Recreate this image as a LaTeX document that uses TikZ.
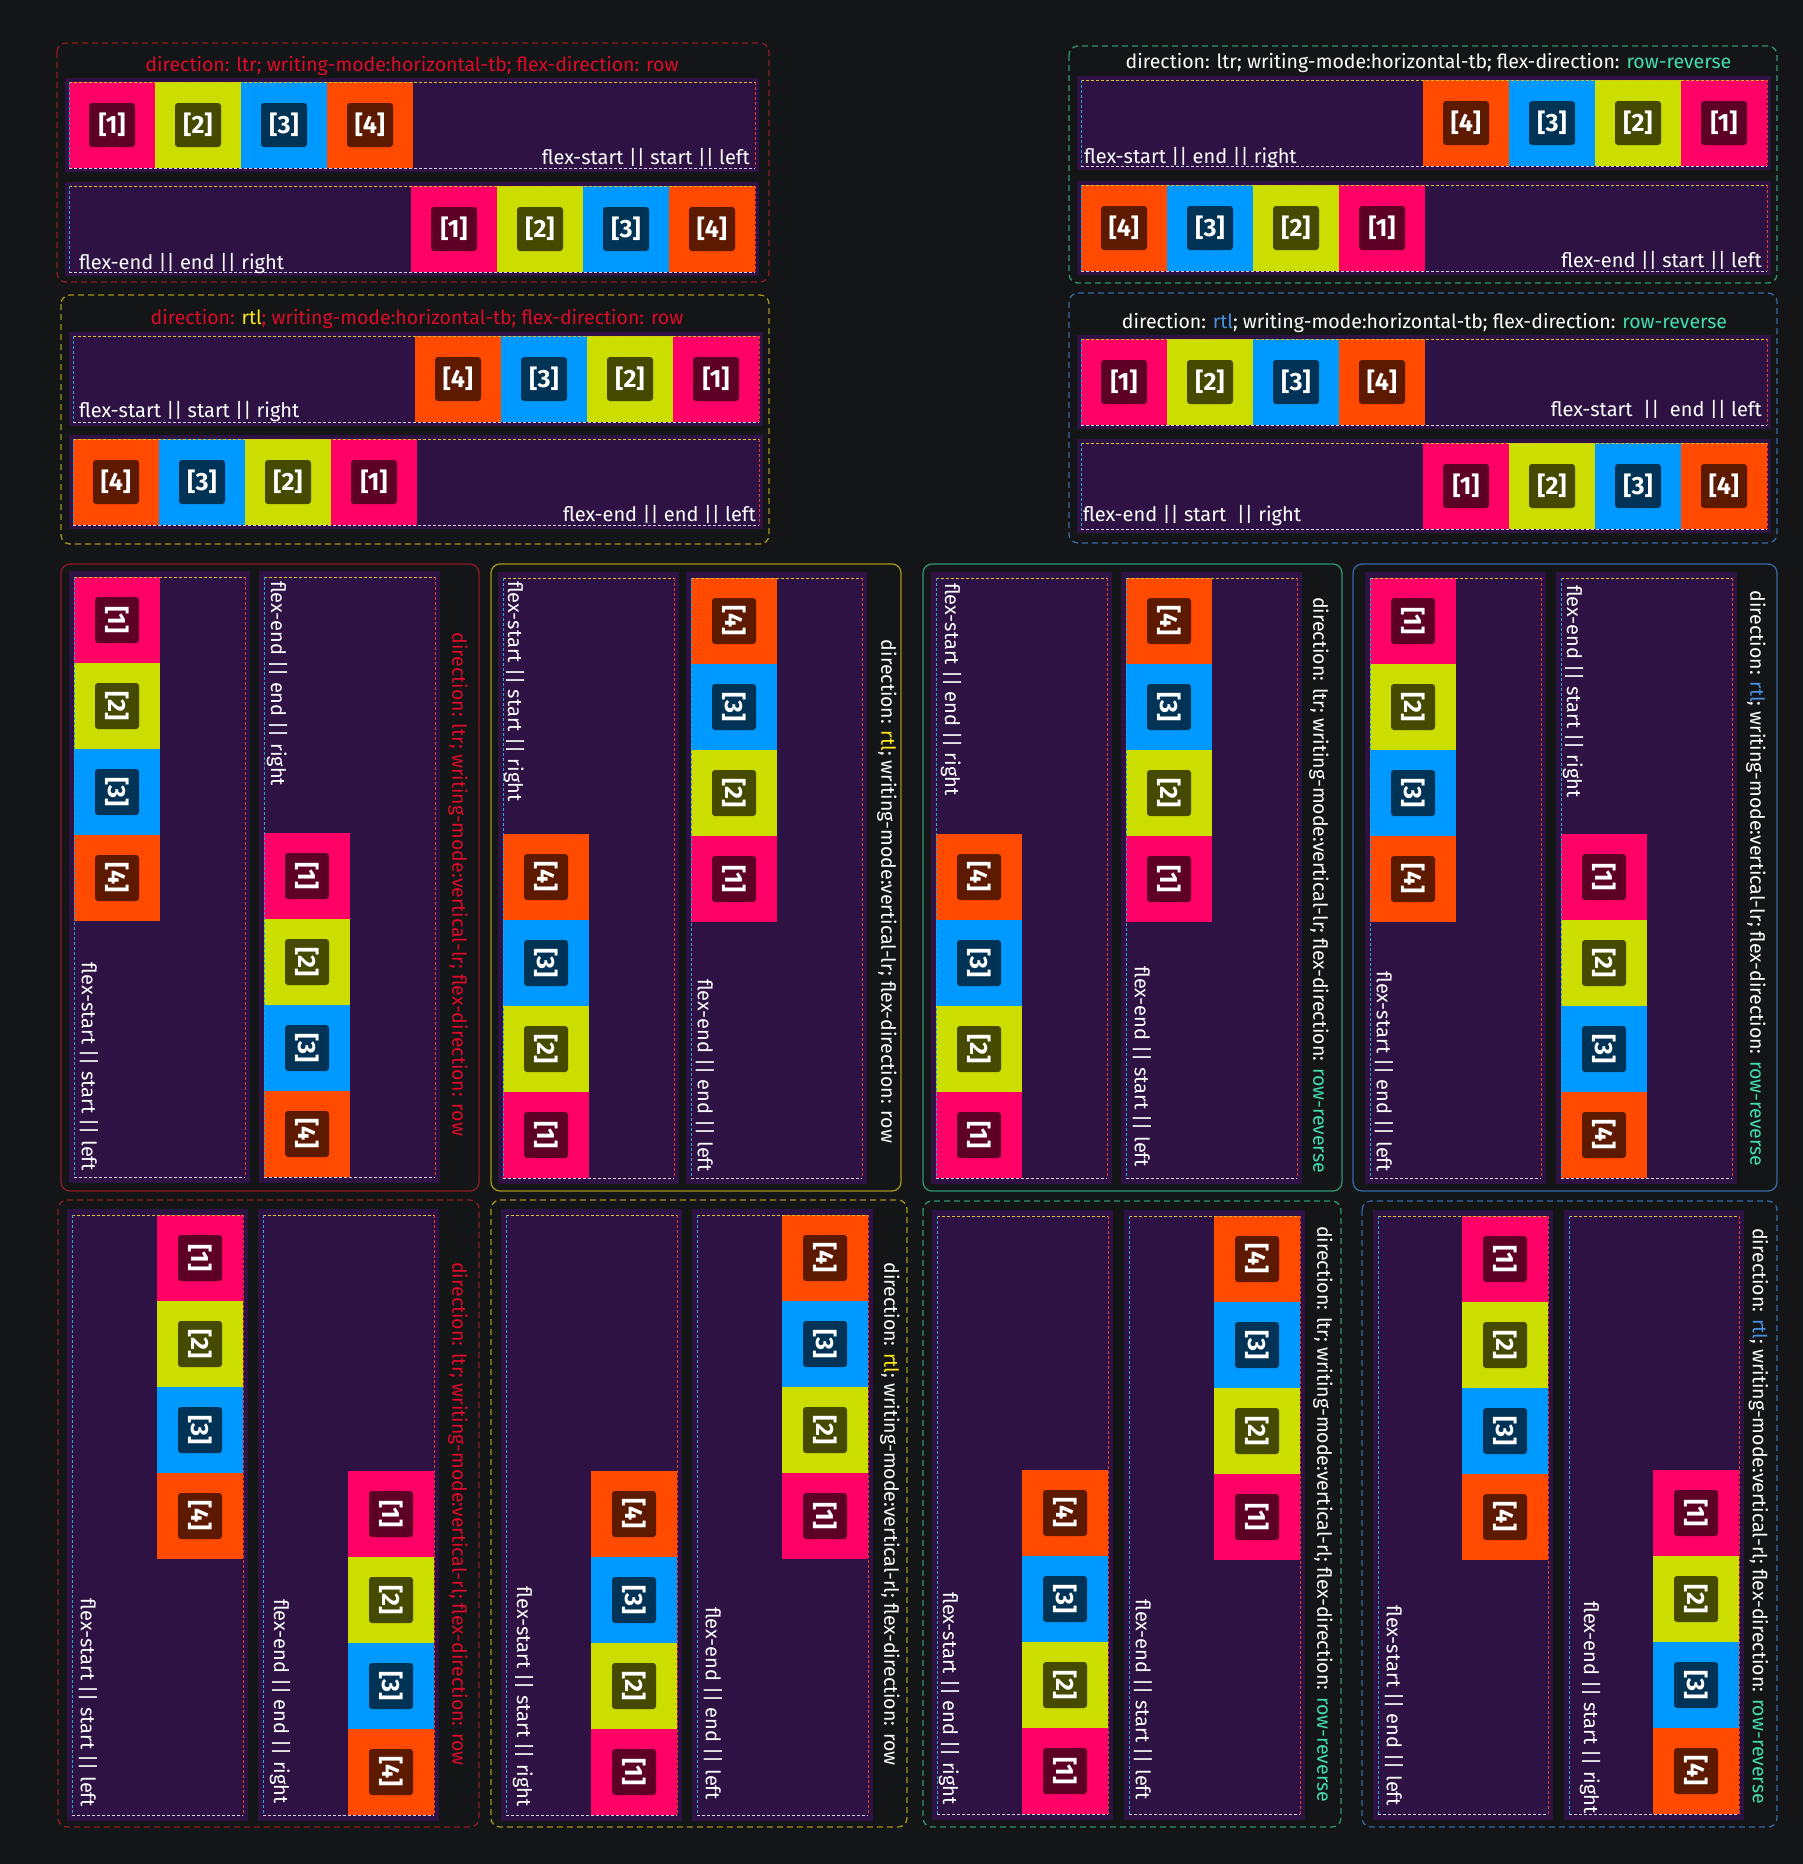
\documentclass[tikz,border=0pt]{standalone}
\usepackage{fontspec}
\setmainfont{Fira Sans}
\definecolor{bg}{HTML}{131517}
\definecolor{lanebg}{HTML}{2E1244}
\definecolor{c1}{HTML}{FF0066}
\definecolor{d1}{HTML}{5E0026}
\definecolor{c2}{HTML}{CCDD00}
\definecolor{d2}{HTML}{454A00}
\definecolor{c3}{HTML}{0099FF}
\definecolor{d3}{HTML}{003355}
\definecolor{c4}{HTML}{FF4A00}
\definecolor{d4}{HTML}{5E1A00}
\definecolor{redtxt}{HTML}{DD0A2A}
\definecolor{yeltxt}{HTML}{FFE81A}
\definecolor{teatxt}{HTML}{44DDB0}
\definecolor{blutxt}{HTML}{4A90E2}
\definecolor{redbd}{HTML}{8E1A26}
\definecolor{yelbd}{HTML}{A39516}
\definecolor{teabd}{HTML}{2F9677}
\definecolor{blubd}{HTML}{3668A6}
\definecolor{etop}{HTML}{E2C025}
\definecolor{eleft}{HTML}{2AA6D6}
\definecolor{eright}{HTML}{DD3F2A}
\definecolor{ebot}{HTML}{D8CCE0}
\tikzset{
  cell/.style={fill=#1,minimum width=86pt,minimum height=86pt,inner sep=0pt},
  tag/.style={fill=#1,rounded corners=3pt,minimum width=46pt,minimum height=44pt,inner sep=0pt,
    text=white,font=\bfseries\fontsize{25}{25}\selectfont},
  frame/.style={rounded corners=9pt,line width=1.3pt,draw=#1},
  title/.style={font=\fontsize{19.5}{22}\selectfont,inner sep=0pt},
  lbl/.style={text=white,font=\fontsize{20}{22}\selectfont,inner sep=0pt},
  edge/.style={line width=0.8pt,dash pattern=on 3pt off 2pt},
}

\begin{document}
\begin{tikzpicture}[x=1pt,y=-1pt]
  \fill[bg] (0,0) rectangle (1803,1864);
  \useasboundingbox (0,0) rectangle (1803,1864);

  \foreach \bd/\xa/\ya/\xb/\yb in {redbd/57/43/769/282,yelbd/61/295/769/544,teabd/1069/46/1777/283,blubd/1069/293/1777/543,
    redbd/58/1200/479/1827,yelbd/491/1200/907/1827,teabd/923/1201/1341/1827,blubd/1362/1201/1777/1827}
    \draw[frame=\bd,dash pattern=on 6pt off 4pt] (\xa,\ya) rectangle (\xb,\yb);
  \foreach \bd/\xa/\ya/\xb/\yb in {redbd/61/564/479/1191,yelbd/491/564/901/1191,teabd/923/564/1342/1191,blubd/1353/564/1777/1191}
    \draw[frame=\bd] (\xa,\ya) rectangle (\xb,\yb);

  \foreach \ln/\xa/\ya/\xb/\yb/\sx/\ord in {ha1/69/82/755/168/69/{1,2,3,4},ha2/69/186/755/272/411/{1,2,3,4},
    hb1/73/336/759/422/415/{4,3,2,1},hb2/73/439/759/525/73/{4,3,2,1},
    hc1/1081/80/1767/166/1423/{4,3,2,1},hc2/1081/185/1767/271/1081/{4,3,2,1},
    hd1/1081/339/1767/425/1081/{1,2,3,4},hd2/1081/443/1767/529/1423/{1,2,3,4}}{
    \fill[lanebg] (\xa-4,\ya-4) rectangle (\xb+4,\yb+4);
    \foreach \k [count=\i] in \ord {
      \node[cell=c\k] (\ln-\k) at (\sx+\i*86-43,\ya+43) {};
      \node[tag=d\k] (\ln-\k t) at (\ln-\k) {[\k]};
    }
    \draw[edge,etop] (\xa,\ya) -- (\xb,\ya);
    \draw[edge,ebot] (\xa,\yb) -- (\xb,\yb);
    \draw[edge,eleft] (\xa,\ya) -- (\xa,\yb);
    \draw[edge,eright] (\xb,\ya) -- (\xb,\yb);
  }

  \foreach \ln/\xa/\ya/\xb/\yb/\sx/\sy/\ord in {ve1/74/577/245/1177/74/577/{1,2,3,4},ve2/264/577/435/1177/264/833/{1,2,3,4},
    vf1/503/578/674/1178/503/834/{4,3,2,1},vf2/691/578/862/1178/691/578/{4,3,2,1},
    vg1/936/578/1107/1178/936/834/{4,3,2,1},vg2/1126/578/1297/1178/1126/578/{4,3,2,1},
    vh1/1370/578/1541/1178/1370/578/{1,2,3,4},vh2/1561/578/1732/1178/1561/834/{1,2,3,4},
    vi1/72/1215/243/1815/157/1215/{1,2,3,4},vi2/263/1215/434/1815/348/1471/{1,2,3,4},
    vj1/506/1215/677/1815/591/1471/{4,3,2,1},vj2/697/1215/868/1815/782/1215/{4,3,2,1},
    vk1/937/1216/1108/1814/1022/1470/{4,3,2,1},vk2/1129/1216/1300/1814/1214/1216/{4,3,2,1},
    vl1/1378/1216/1548/1814/1462/1216/{1,2,3,4},vl2/1569/1216/1739/1814/1653/1470/{1,2,3,4}}{
    \fill[lanebg] (\xa-5,\ya-6) rectangle (\xb+5,\yb+6);
    \foreach \k [count=\i] in \ord {
      \node[cell=c\k] (\ln-\k) at (\sx+43,\sy+\i*86-43) {};
      \node[tag=d\k,rotate=-90] (\ln-\k t) at (\ln-\k) {[\k]};
    }
    \draw[edge,etop] (\xa,\ya) -- (\xb,\ya);
    \draw[edge,ebot] (\xa,\yb) -- (\xb,\yb);
    \draw[edge,eleft] (\xa,\ya) -- (\xa,\yb);
    \draw[edge,eright] (\xb,\ya) -- (\xb,\yb);
  }

  \foreach \nm/\x/\y/\an/\txt in {ha1/750/164/base east/flex-start || start || left,ha2/79/269/base west/flex-end || end || right,
    hb1/79/417/base west/flex-start || start || right,hb2/756/521.5/base east/flex-end || end || left,
    hc1/1084/163/base west/flex-start || end || right,hc2/1762/267/base east/flex-end || start || left,
    hd1/1762/416.5/base east/flex-start\ \ ||\ \ end || left,hd2/1083/521.5/base west/flex-end || start\ \ || right}
    \node[lbl,anchor=\an] (\nm-lbl) at (\x,\y) {\txt};
  \foreach \nm/\x/\y/\an/\txt in {ve1/89/1171/east/flex-start || start || left,ve2/277/581/west/flex-end || end || right,
    vf1/514/581/west/flex-start || start || right,vf2/705/1172/east/flex-end || end || left,
    vg1/951/583/west/flex-start || end || right,vg2/1142/1167/east/flex-end || start || left,
    vh1/1384/1172/east/flex-start || end || left,vh2/1573/585/west/flex-end || start || right,
    vi1/88/1807/east/flex-start || start || left,vi2/280/1804/east/flex-end || end || right,
    vj1/523/1807/east/flex-start || start || right,vj2/713/1800/east/flex-end || end || left,
    vk1/949/1805/east/flex-start || end || right,vk2/1143/1800/east/flex-end || start || left,
    vl1/1394/1806/east/flex-start || end || left,vl2/1590/1814/east/flex-end || start || right}
    \node[lbl,anchor=\an,rotate=-90] (\nm-lbl) at (\x,\y) {\txt};

  \node[title,text=redtxt,anchor=base] (ttl-a) at (412,71.7) {direction: ltr; writing-mode:horizontal-tb; flex-direction: row};
  \node[title,text=redtxt,anchor=base] (ttl-b) at (417,324.3) {direction: \textcolor{yeltxt}{rtl}; writing-mode:horizontal-tb; flex-direction: row};
  \node[title,text=white,anchor=base] (ttl-c) at (1428.5,68.3) {direction: ltr; writing-mode:horizontal-tb; flex-direction: \textcolor{teatxt}{row-reverse}};
  \node[title,text=white,anchor=base] (ttl-d) at (1424.5,328) {direction: \textcolor{blutxt}{rtl}; writing-mode:horizontal-tb; flex-direction: \textcolor{teatxt}{row-reverse}};

  \node[title,text=redtxt,rotate=-90] (ttl-e) at (458,884.5) {direction: ltr; writing-mode:vertical-lr; flex-direction: row};
  \node[title,text=white,rotate=-90] (ttl-f) at (887,891.5) {direction: \textcolor{yeltxt}{rtl}; writing-mode:vertical-lr; flex-direction: row};
  \node[title,text=white,rotate=-90] (ttl-g) at (1319,885) {direction: ltr; writing-mode:vertical-lr; flex-direction: \textcolor{teatxt}{row-reverse}};
  \node[title,text=white,rotate=-90] (ttl-h) at (1756,878.5) {direction: \textcolor{blutxt}{rtl}; writing-mode:vertical-lr; flex-direction: \textcolor{teatxt}{row-reverse}};
  \node[title,text=redtxt,rotate=-90] (ttl-i) at (458,1514) {direction: ltr; writing-mode:vertical-rl; flex-direction: row};
  \node[title,text=white,rotate=-90] (ttl-j) at (890,1514) {direction: \textcolor{yeltxt}{rtl}; writing-mode:vertical-rl; flex-direction: row};
  \node[title,text=white,rotate=-90] (ttl-k) at (1323,1514) {direction: ltr; writing-mode:vertical-rl; flex-direction: \textcolor{teatxt}{row-reverse}};
  \node[title,text=white,rotate=-90] (ttl-l) at (1758.5,1516) {direction: \textcolor{blutxt}{rtl}; writing-mode:vertical-rl; flex-direction: \textcolor{teatxt}{row-reverse}};
\end{tikzpicture}
\end{document}
